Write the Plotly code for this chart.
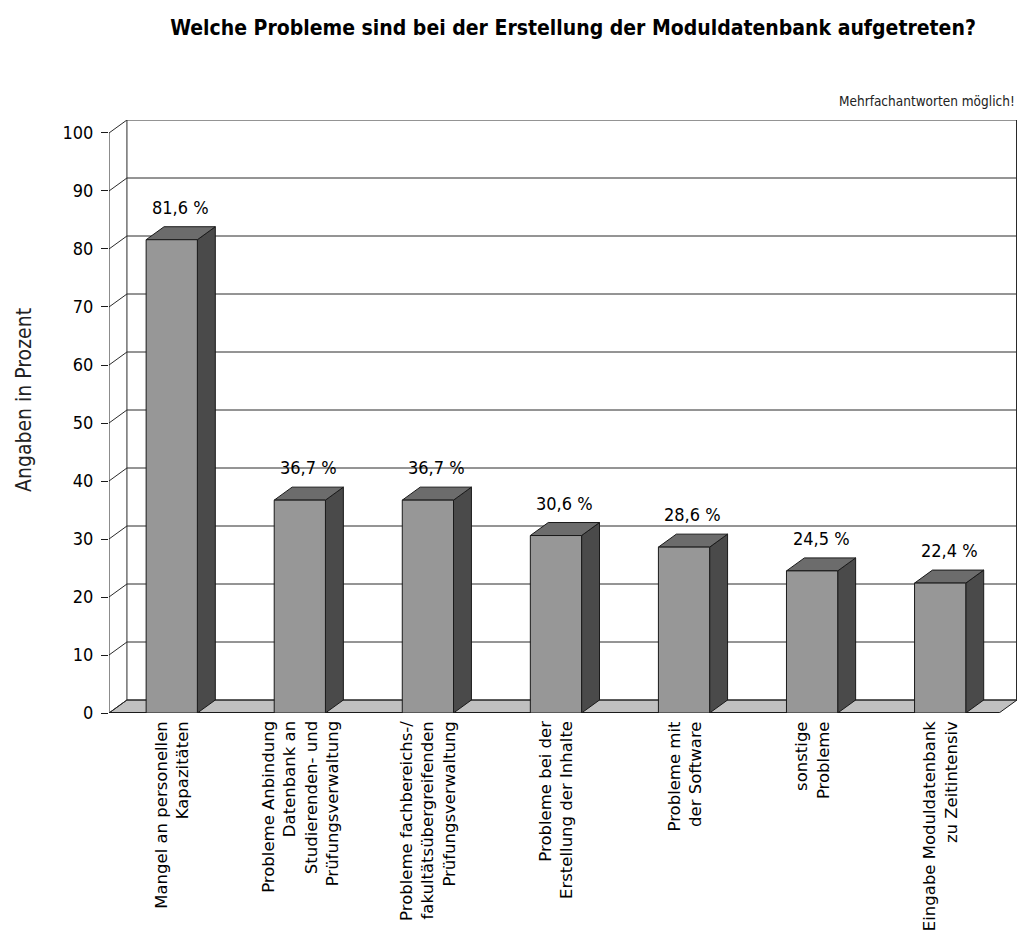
import plotly.graph_objects as go

categories = [
    "Mangel an personellen<br>Kapazitäten",
    "Probleme Anbindung<br>Datenbank an<br>Studierenden- und<br>Prüfungsverwaltung",
    "Probleme fachbereichs-/<br>fakultätsübergreifenden<br>Prüfungsverwaltung",
    "Probleme bei der<br>Erstellung der Inhalte",
    "Probleme mit<br>der Software",
    "sonstige<br>Probleme",
    "Eingabe Moduldatenbank<br>zu Zeitintensiv",
]
values = [81.6, 36.7, 36.7, 30.6, 28.6, 24.5, 22.4]
value_labels = ["81,6 %", "36,7 %", "36,7 %", "30,6 %", "28,6 %", "24,5 %", "22,4 %"]
tick_vals = [0, 10, 20, 30, 40, 50, 60, 70, 80, 90, 100]

NARROW = "DejaVu Sans Condensed, Liberation Sans Narrow, sans-serif"

# 3D geometry (in data units)
DX = 0.14     # depth offset along x
DY = 2.24     # depth offset along y
BW = 0.40     # bar width
X0 = -0.49    # front-left of plot
X1 = 6.46     # front-right of floor
YMAX = 100

FRONT = "#979797"
TOP = "#6c6c6c"
SIDE = "#4a4a4a"
FLOOR = "#c0c0c0"
EDGE = "#1a1a1a"
GRID = "#2a2a2a"

fig = go.Figure()

shapes = []
# floor
shapes.append(dict(type="path", xref="x", yref="y", layer="below",
                   path=f"M {X0},0 L {X1},0 L {X1+DX},{DY} L {X0+DX},{DY} Z",
                   fillcolor=FLOOR, line=dict(color=EDGE, width=1)))
# back wall grid lines and left wall diagonals
for v in tick_vals:
    shapes.append(dict(type="line", xref="x", yref="y", layer="below",
                       x0=X0 + DX, x1=X1 + DX, y0=v + DY, y1=v + DY,
                       line=dict(color=GRID, width=1)))
    shapes.append(dict(type="line", xref="x", yref="y", layer="below",
                       x0=X0, x1=X0 + DX, y0=v, y1=v + DY,
                       line=dict(color=GRID, width=1)))
# back-left vertical edge
shapes.append(dict(type="line", xref="x", yref="y", layer="below",
                   x0=X0 + DX, x1=X0 + DX, y0=DY, y1=YMAX + DY,
                   line=dict(color=GRID, width=1)))
# back-right vertical edge
shapes.append(dict(type="line", xref="x", yref="y", layer="below",
                   x0=X1 + DX, x1=X1 + DX, y0=DY, y1=YMAX + DY,
                   line=dict(color=GRID, width=2)))
# front axis line
shapes.append(dict(type="line", xref="x", yref="y", layer="below",
                   x0=X0, x1=X0, y0=0, y1=YMAX,
                   line=dict(color=EDGE, width=1)))
# front floor edge
shapes.append(dict(type="line", xref="x", yref="y", layer="below",
                   x0=X0, x1=X1, y0=0, y1=0,
                   line=dict(color=EDGE, width=2)))

# bars as 3D boxes
for i, v in enumerate(values):
    l, r = i - BW / 2, i + BW / 2
    # side face
    fig.add_trace(go.Scatter(
        x=[r, r + DX, r + DX, r, r], y=[0, DY, v + DY, v, 0],
        mode="lines", fill="toself", fillcolor=SIDE,
        line=dict(color=EDGE, width=1), hoverinfo="skip", showlegend=False))
    # top face
    fig.add_trace(go.Scatter(
        x=[l, r, r + DX, l + DX, l], y=[v, v, v + DY, v + DY, v],
        mode="lines", fill="toself", fillcolor=TOP,
        line=dict(color=EDGE, width=1), hoverinfo="skip", showlegend=False))
    # front face
    fig.add_trace(go.Scatter(
        x=[l, r, r, l, l], y=[0, 0, v, v, 0],
        mode="lines", fill="toself", fillcolor=FRONT,
        line=dict(color=EDGE, width=1), hoverinfo="skip", showlegend=False))

annotations = []
for i, (v, lab) in enumerate(zip(values, value_labels)):
    annotations.append(dict(x=i + 0.07, y=v + DY, xref="x", yref="y",
                            text=lab, showarrow=False, yanchor="bottom", yshift=7,
                            font=dict(family=NARROW, size=18, color="#000")))
for i, cat in enumerate(categories):
    annotations.append(dict(x=i, y=0, xref="x", yref="paper",
                            text=cat, showarrow=False, textangle=-90,
                            xanchor="center", yanchor="top", align="right", yshift=-6,
                            font=dict(family="DejaVu Sans, Verdana, sans-serif", size=16.5, color="#000")))
annotations.append(dict(x=1, y=1, xref="paper", yref="paper", xanchor="right",
                        yanchor="bottom", yshift=9, showarrow=False,
                        text="Mehrfachantworten möglich!",
                        font=dict(family=NARROW, size=13.5, color="#222")))
annotations.append(dict(x=(24 - 109) / (1017 - 109), y=(713 - 400) / (713 - 120),
                        xref="paper", yref="paper", showarrow=False,
                        xanchor="center", yanchor="middle",
                        text="Angaben in Prozent", textangle=-90,
                        font=dict(family=NARROW, size=21, color="#222")))

fig.update_layout(
    width=1021, height=937,
    margin=dict(l=109, r=4, t=120, b=224),
    paper_bgcolor="#ffffff", plot_bgcolor="#ffffff",
    showlegend=False,
    shapes=shapes,
    annotations=annotations,
    title=dict(text="<b>Welche Probleme sind bei der Erstellung der Moduldatenbank aufgetreten?</b>",
               x=573 / 1021, xanchor="center", y=1 - 28 / 937, yanchor="middle",
               font=dict(family=NARROW, size=21, color="#000")),
    xaxis=dict(range=[X0, X1 + DX], showgrid=False, zeroline=False, showline=False,
               showticklabels=False, ticks="", fixedrange=True),
    yaxis=dict(range=[0, YMAX + DY], showgrid=False, zeroline=False, showline=False,
               tickvals=tick_vals, ticks="outside", ticklen=7, tickcolor=EDGE,
               ticklabelstandoff=4,
               tickfont=dict(family=NARROW, size=18, color="#000"), fixedrange=True),
)

fig.write_html("out.html")
